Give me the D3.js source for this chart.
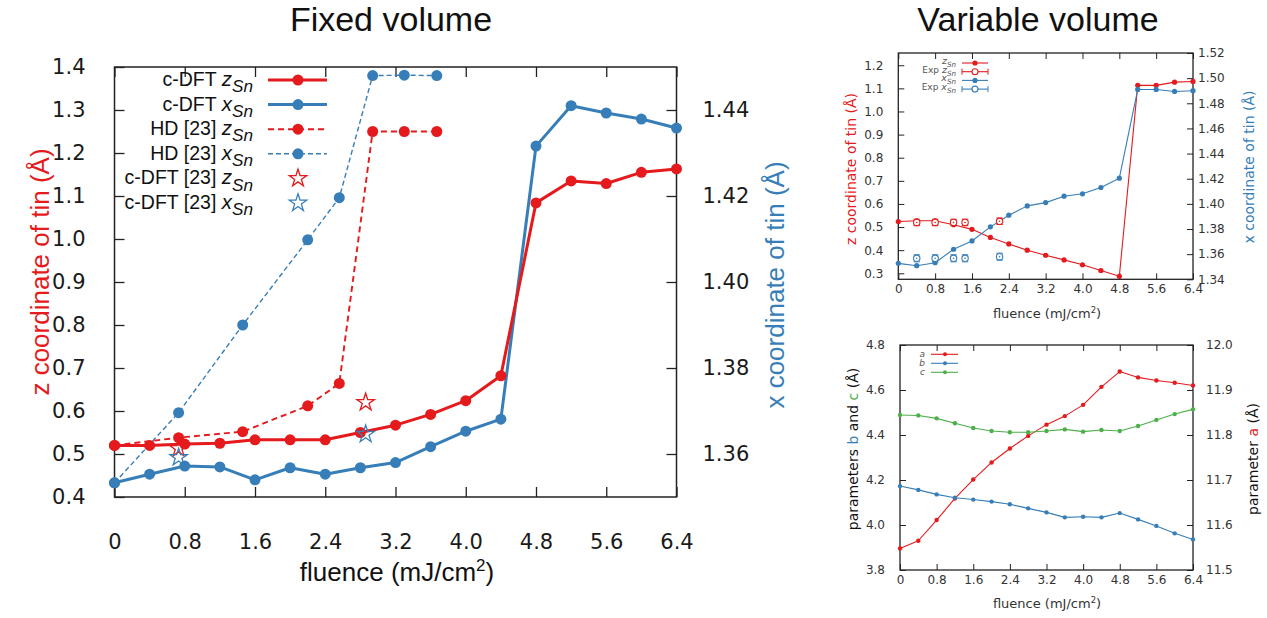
<!DOCTYPE html>
<html>
<head>
<meta charset="utf-8">
<script src="https://cdn.jsdelivr.net/npm/d3@7"></script>
<style>
  body { margin: 0; background: #fff; }
</style>
</head>
<body>
<svg id="chart" width="1267" height="618"></svg>
<script>
// ---- data ----
const fluence = [0, 0.4, 0.8, 1.2, 1.6, 2.0, 2.4, 2.8, 3.2, 3.6, 4.0, 4.4, 4.8, 5.2, 5.6, 6.0, 6.4];
const fluenceTicks = [0, 0.8, 1.6, 2.4, 3.2, 4.0, 4.8, 5.6, 6.4];

// fixed volume
const fixedZ = [0.520, 0.520, 0.523, 0.525, 0.533, 0.533, 0.533, 0.550, 0.567, 0.592, 0.624, 0.682, 1.084, 1.135, 1.129, 1.155, 1.163];
const fixedX = [1.3533, 1.3553, 1.3572, 1.3570, 1.3540, 1.3568, 1.3553, 1.3568, 1.3580, 1.3617, 1.3653, 1.3681, 1.4316, 1.4410, 1.4393, 1.4379, 1.4358];
const hdFluence = [0, 0.73, 1.46, 2.2, 2.56, 2.94, 3.3, 3.67];
const hdZ = [0.520, 0.538, 0.552, 0.612, 0.664, 1.250, 1.250, 1.250];
const hdX = [1.3533, 1.3696, 1.3900, 1.4098, 1.4196, 1.4480, 1.4481, 1.4480];
const refFluence = [0.73, 2.86];
const refZ = [0.513, 0.620];
const refX = [1.3592, 1.3646];
const fixedLeftTicks = [0.4, 0.5, 0.6, 0.7, 0.8, 0.9, 1.0, 1.1, 1.2, 1.3, 1.4];
const fixedRightTicks = [1.36, 1.38, 1.40, 1.42, 1.44];

// variable volume, tin coordinates
const varZ = [0.524, 0.527, 0.527, 0.510, 0.490, 0.455, 0.427, 0.400, 0.378, 0.358, 0.337, 0.312, 0.287, 1.113, 1.113, 1.127, 1.130];
const varX = [1.3527, 1.3508, 1.3532, 1.3639, 1.3705, 1.3817, 1.3910, 1.3984, 1.4010, 1.4061, 1.4080, 1.4130, 1.4204, 1.4910, 1.4910, 1.4894, 1.4900];
const expFluence = [0.4, 0.8, 1.2, 1.45, 2.2];
const expZ = [0.520, 0.520, 0.520, 0.520, 0.525];
const expZErr = [0.014, 0.014, 0.014, 0.014, 0.014];
const expX = [1.3567, 1.3567, 1.3567, 1.3567, 1.3580];
const expXErr = [0.0028, 0.0028, 0.0028, 0.0028, 0.0028];
const varLeftTicks = [0.3, 0.4, 0.5, 0.6, 0.7, 0.8, 0.9, 1.0, 1.1, 1.2];
const varRightTicks = [1.34, 1.36, 1.38, 1.40, 1.42, 1.44, 1.46, 1.48, 1.50, 1.52];

// variable volume, lattice parameters
const latticeA = [11.548, 11.565, 11.611, 11.659, 11.701, 11.739, 11.770, 11.798, 11.823, 11.842, 11.867, 11.907, 11.941, 11.928, 11.921, 11.916, 11.910];
const latticeB = [4.173, 4.156, 4.136, 4.121, 4.113, 4.104, 4.092, 4.074, 4.056, 4.034, 4.037, 4.034, 4.053, 4.025, 3.996, 3.963, 3.936];
const latticeC = [4.489, 4.487, 4.474, 4.452, 4.431, 4.418, 4.412, 4.412, 4.418, 4.425, 4.415, 4.422, 4.418, 4.440, 4.467, 4.493, 4.514];
const latLeftTicks = [3.8, 4.0, 4.2, 4.4, 4.6, 4.8];
const latRightTicks = [11.5, 11.6, 11.7, 11.8, 11.9, 12.0];

// ---- setup ----
const RED = "#e41a1c", BLUE = "#377eb8", GREEN = "#4daf4a";
const ARIAL = "Liberation Sans, Arial, sans-serif";
const DEJAVU = "DejaVu Sans, sans-serif";
const svg = d3.select("#chart");
const fmtFluence = d => d === 0 ? "0" : d3.format(".1f")(d);

//frame with axes
function panel(box, leftDomain, rightDomain, o) {
    const x = d3.scaleLinear().domain([0, 6.4]).range([box.x0, box.x1]);
    const yL = d3.scaleLinear().domain(leftDomain).range([box.y1, box.y0]);
    const yR = d3.scaleLinear().domain(rightDomain).range([box.y1, box.y0]);
    const g = svg.append("g");

    const style = (sel) => {
        sel.select(".domain").remove();
        sel.selectAll(".tick line").attr("stroke", o.tickColor).attr("stroke-width", o.tickWidth);
        sel.selectAll("text")
            .attr("font-family", DEJAVU)
            .attr("font-size", o.fontSize)
            .attr("fill", o.textColor);
    };

    g.append("g").attr("transform", `translate(0,${box.y1})`)
        .call(d3.axisBottom(x).tickValues(fluenceTicks).tickFormat(fmtFluence)
            .tickSize(-o.tickLen).tickSizeOuter(0).tickPadding(o.padBottom))
        .call(style);
    g.append("g").attr("transform", `translate(0,${box.y0})`)
        .call(d3.axisTop(x).tickValues(fluenceTicks).tickFormat("")
            .tickSize(-o.tickLen).tickSizeOuter(0))
        .call(style);
    g.append("g").attr("transform", `translate(${box.x0},0)`)
        .call(d3.axisLeft(yL).tickValues(o.leftTicks).tickFormat(d3.format(o.leftFmt))
            .tickSize(-o.tickLen).tickSizeOuter(0).tickPadding(o.padLeft))
        .call(style);
    g.append("g").attr("transform", `translate(${box.x1},0)`)
        .call(d3.axisRight(yR).tickValues(o.rightTicks).tickFormat(d3.format(o.rightFmt))
            .tickSize(-o.tickLen).tickSizeOuter(0).tickPadding(o.padRight))
        .call(style);

    g.append("rect")
        .attr("x", box.x0).attr("y", box.y0)
        .attr("width", box.x1 - box.x0).attr("height", box.y1 - box.y0)
        .attr("fill", "none").attr("stroke", o.borderColor).attr("stroke-width", o.borderWidth);

    return { g, x, yL, yR };
}

//plot a line with dots
function series(g, xs, ys, xScale, yScale, color, width, dash, r) {
    const pts = xs.map((v, i) => [xScale(v), yScale(ys[i])]);
    g.append("path")
        .attr("d", d3.line()(pts))
        .attr("fill", "none")
        .attr("stroke", color)
        .attr("stroke-width", width)
        .attr("stroke-dasharray", dash || null)
        .attr("stroke-linejoin", "round");
    g.selectAll(null).data(pts).enter().append("circle")
        .attr("cx", d => d[0]).attr("cy", d => d[1]).attr("r", r)
        .attr("fill", color);
}

function stars(g, xs, ys, xScale, yScale, color, size) {
    g.selectAll(null).data(xs).enter().append("path")
        .attr("transform", (d, i) => `translate(${xScale(d)},${yScale(ys[i])})`)
        .attr("d", d3.symbol(d3.symbolStar, size))
        .attr("fill", "none").attr("stroke", color).attr("stroke-width", 1.3);
}

function expPoints(g, xs, ys, errs, xScale, yScale, color) {
    xs.forEach((v, i) => {
        const cx = xScale(v), cy = yScale(ys[i]);
        const top = yScale(ys[i] + errs[i]), bot = yScale(ys[i] - errs[i]);
        [top, bot].forEach(yy => g.append("line")
            .attr("x1", cx - 3.2).attr("x2", cx + 3.2).attr("y1", yy).attr("y2", yy)
            .attr("stroke", color).attr("stroke-width", 1));
        g.append("circle").attr("cx", cx).attr("cy", cy).attr("r", 3.2)
            .attr("fill", "#fff").attr("stroke", color).attr("stroke-width", 1.1);
        g.append("circle").attr("cx", cx).attr("cy", cy).attr("r", 0.8).attr("fill", color);
    });
}

//label with italic symbol and subscript
function symLabel(sel, prefix, sym, sub, fs, subScale) {
    if (prefix) sel.append("tspan").text(prefix);
    sel.append("tspan").attr("font-style", "italic").attr("font-size", fs * 1.05).text(sym);
    sel.append("tspan").attr("font-style", "italic").attr("font-size", fs * subScale)
        .attr("dy", fs * 0.32).text(sub);
}

function titleText(x, y, text) {
    svg.append("text").attr("x", x).attr("y", y).attr("text-anchor", "middle")
        .attr("font-family", ARIAL).attr("font-size", 34).attr("fill", "#111").text(text);
}

function fluenceLabel(x, y, fs, family, color) {
    const t = svg.append("text").attr("x", x).attr("y", y).attr("text-anchor", "middle")
        .attr("font-family", family).attr("font-size", fs).attr("fill", color);
    t.append("tspan").text("fluence (mJ/cm");
    t.append("tspan").attr("font-size", fs * 0.65).attr("dy", -fs * 0.4).text("2");
    t.append("tspan").attr("dy", fs * 0.4).text(")");
}

function vLabel(x, y, fs, family, parts) {
    const t = svg.append("text")
        .attr("transform", `translate(${x},${y}) rotate(-90)`)
        .attr("text-anchor", "middle").attr("dy", "0.35em")
        .attr("font-family", family).attr("font-size", fs);
    parts.forEach(p => t.append("tspan").attr("fill", p[1]).text(p[0]));
}

// ---- Fixed volume ----
titleText(391, 31, "Fixed volume");
const fixed = panel({ x0: 114.5, x1: 676.5, y0: 67, y1: 497 }, [0.4, 1.4], [1.35, 1.45], {
    leftTicks: fixedLeftTicks, rightTicks: fixedRightTicks, leftFmt: ".1f", rightFmt: ".2f",
    tickLen: 10, tickColor: "#222", tickWidth: 1.3, fontSize: 21, textColor: "#1a1a1a",
    padLeft: 29, padRight: 26, padBottom: 37, borderColor: "#222", borderWidth: 1.5
});

series(fixed.g, hdFluence, hdX, fixed.x, fixed.yR, BLUE, 1.4, "5,3", 5.5);
series(fixed.g, hdFluence, hdZ, fixed.x, fixed.yL, RED, 1.9, "6,4", 5.5);
series(fixed.g, fluence, fixedX, fixed.x, fixed.yR, BLUE, 3, null, 5.5);
series(fixed.g, fluence, fixedZ, fixed.x, fixed.yL, RED, 3, null, 5.5);
stars(fixed.g, refFluence, refZ, fixed.x, fixed.yL, RED, 95);
stars(fixed.g, refFluence, refX, fixed.x, fixed.yR, BLUE, 95);

vLabel(40, 272, 26, ARIAL, [["z coordinate of tin (Å)", RED]]);
vLabel(775, 285, 26, ARIAL, [["x coordinate of tin (Å)", BLUE]]);
fluenceLabel(397, 581, 26, ARIAL, "#111");

// legend
const fixedLegend = [
    { prefix: "c-DFT ", sym: "z", color: RED, dash: null, width: 3, mark: "dot" },
    { prefix: "c-DFT ", sym: "x", color: BLUE, dash: null, width: 3, mark: "dot" },
    { prefix: "HD [23] ", sym: "z", color: RED, dash: "6,4", width: 1.9, mark: "dot" },
    { prefix: "HD [23] ", sym: "x", color: BLUE, dash: "5,3", width: 1.4, mark: "dot" },
    { prefix: "c-DFT [23] ", sym: "z", color: RED, mark: "star" },
    { prefix: "c-DFT [23] ", sym: "x", color: BLUE, mark: "star" }
];
const lg = svg.append("g");
fixedLegend.forEach((d, i) => {
    const base = 86 + i * 24.6;
    const t = lg.append("text").attr("x", 253).attr("y", base).attr("text-anchor", "end")
        .attr("font-family", ARIAL).attr("font-size", 19.5).attr("fill", "#111");
    symLabel(t, d.prefix, d.sym, "Sn", 19.5, 0.88);
    const my = base - 6;
    if (d.mark === "dot") {
        lg.append("line").attr("x1", 268).attr("x2", 327).attr("y1", my).attr("y2", my)
            .attr("stroke", d.color).attr("stroke-width", d.width).attr("stroke-dasharray", d.dash);
        lg.append("circle").attr("cx", 298).attr("cy", my).attr("r", 5.5).attr("fill", d.color);
    } else {
        lg.append("path").attr("transform", `translate(298,${my})`)
            .attr("d", d3.symbol(d3.symbolStar, 95))
            .attr("fill", "none").attr("stroke", d.color).attr("stroke-width", 1.3);
    }
});

// ---- Variable volume ----
titleText(1038, 31, "Variable volume");

const small = {
    tickLen: 6, tickColor: "#222", tickWidth: 1, fontSize: 12, textColor: "#333",
    padBottom: 5, borderColor: "#222", borderWidth: 1.3
};

const tin = panel({ x0: 898.3, x1: 1193, y0: 53, y1: 279.3 }, [0.274, 1.253], [1.34, 1.52],
    Object.assign({}, small, {
        leftTicks: varLeftTicks, rightTicks: varRightTicks, leftFmt: ".1f", rightFmt: ".2f",
        padLeft: 15, padRight: 5
    }));
series(tin.g, fluence, varZ, tin.x, tin.yL, RED, 1.1, null, 2.6);
series(tin.g, fluence, varX, tin.x, tin.yR, BLUE, 1.1, null, 2.6);
expPoints(tin.g, expFluence, expZ, expZErr, tin.x, tin.yL, RED);
expPoints(tin.g, expFluence, expX, expXErr, tin.x, tin.yR, BLUE);

vLabel(851, 169, 14, DEJAVU, [["z coordinate of tin (Å)", RED]]);
vLabel(1249, 167, 14, DEJAVU, [["x coordinate of tin (Å)", BLUE]]);
fluenceLabel(1047, 318, 13, DEJAVU, "#333");

const tinLegend = [
    { prefix: "", sym: "z", color: RED, exp: false },
    { prefix: "Exp ", sym: "z", color: RED, exp: true },
    { prefix: "", sym: "x", color: BLUE, exp: false },
    { prefix: "Exp ", sym: "x", color: BLUE, exp: true }
];
tinLegend.forEach((d, i) => {
    const my = 63 + i * 8.7;
    const t = tin.g.append("text").attr("x", 956).attr("y", my + 1).attr("text-anchor", "end")
        .attr("font-family", DEJAVU).attr("font-size", 9).attr("fill", "#555");
    symLabel(t, d.prefix, d.sym, "Sn", 9, 0.8);
    tin.g.append("line").attr("x1", 962).attr("x2", 988).attr("y1", my).attr("y2", my)
        .attr("stroke", d.color).attr("stroke-width", 1.1);
    if (d.exp) {
        [962, 988].forEach(xx => tin.g.append("line").attr("x1", xx).attr("x2", xx)
            .attr("y1", my - 3).attr("y2", my + 3).attr("stroke", d.color).attr("stroke-width", 1));
        tin.g.append("circle").attr("cx", 975).attr("cy", my).attr("r", 3)
            .attr("fill", "#fff").attr("stroke", d.color).attr("stroke-width", 1.1);
    } else {
        tin.g.append("circle").attr("cx", 975).attr("cy", my).attr("r", 2.6).attr("fill", d.color);
    }
});

const lat = panel({ x0: 900, x1: 1193, y0: 345, y1: 570 }, [3.8, 4.8], [11.5, 12.0],
    Object.assign({}, small, {
        leftTicks: latLeftTicks, rightTicks: latRightTicks, leftFmt: ".1f", rightFmt: ".1f",
        padLeft: 15, padRight: 13
    }));
series(lat.g, fluence, latticeA, lat.x, lat.yR, RED, 1.1, null, 2.2);
series(lat.g, fluence, latticeB, lat.x, lat.yL, BLUE, 1.1, null, 2.2);
series(lat.g, fluence, latticeC, lat.x, lat.yL, GREEN, 1.1, null, 2.2);

vLabel(853, 449, 14, DEJAVU, [["parameters ", "#111"], ["b", BLUE], [" and ", "#111"], ["c", GREEN], [" (Å)", "#111"]]);
vLabel(1253, 459, 14, DEJAVU, [["parameter ", "#111"], ["a", RED], [" (Å)", "#111"]]);
fluenceLabel(1047, 608, 13, DEJAVU, "#333");

const latLegend = [
    { sym: "a", color: RED },
    { sym: "b", color: BLUE },
    { sym: "c", color: GREEN }
];
latLegend.forEach((d, i) => {
    const my = 354.3 + i * 9;
    lat.g.append("text").attr("x", 925).attr("y", my + 3).attr("text-anchor", "end")
        .attr("font-family", DEJAVU).attr("font-size", 9).attr("font-style", "italic")
        .attr("fill", "#555").text(d.sym);
    lat.g.append("line").attr("x1", 931).attr("x2", 958).attr("y1", my).attr("y2", my)
        .attr("stroke", d.color).attr("stroke-width", 1.1);
    lat.g.append("circle").attr("cx", 945).attr("cy", my).attr("r", 2).attr("fill", d.color);
});
</script>
</body>
</html>
